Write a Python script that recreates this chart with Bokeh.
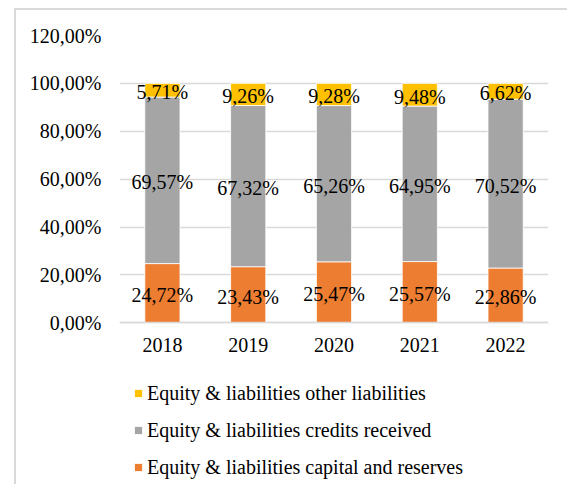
from bokeh.plotting import figure
from bokeh.models import (ColumnDataSource, FactorRange, Range1d, FixedTicker,
                          Legend, LegendItem)
from bokeh.core.properties import value
from bokeh.embed import file_html
from bokeh.resources import INLINE

years = ["2018", "2019", "2020", "2021", "2022"]
capital = [24.72, 23.43, 25.47, 25.57, 22.86]
credits = [69.57, 67.32, 65.26, 64.95, 70.52]
other = [5.71, 9.26, 9.28, 9.48, 6.62]
series_names = ["Equity & liabilities capital and reserves",
                "Equity & liabilities credits received",
                "Equity & liabilities other liabilities"]
colors = ["#ED7D31", "#A5A5A5", "#FFC000"]
y_ticks = [0, 20, 40, 60, 80, 100, 120]
y_tick_labels = ["0,00%", "20,00%", "40,00%", "60,00%", "80,00%", "100,00%", "120,00%"]

FONT = "Liberation Serif"

def fmt(v):
    return f"{v:.2f}".replace(".", ",") + "%"

src = ColumnDataSource(dict(years=years, capital=capital, credits=credits, other=other))

# frame extends below the axis so the legend can sit inside it
p = figure(x_range=FactorRange(*years, range_padding=0), y_range=Range1d(-68.4, 120),
           width=553, height=476, output_backend="svg", toolbar_location=None,
           min_border_left=103, min_border_right=21, min_border_top=25, min_border_bottom=0)
p.styles = {"position": "relative", "top": "8px", "left": "14px",
            "border-top": "2px solid #d9d9d9", "border-left": "2px solid #d9d9d9"}
p.outline_line_color = None
p.background_fill_color = "white"
p.border_fill_color = "white"

rs = p.vbar_stack(["capital", "credits", "other"], x="years", width=0.41, source=src,
                  color=colors, line_color="white", line_width=0.8)

# data labels at segment centres
lab_x, lab_y, lab_t = [], [], []
for i, yr in enumerate(years):
    base = 0.0
    for vals in (capital, credits, other):
        v = vals[i]
        lab_x.append(yr)
        lab_y.append(base + v / 2)
        lab_t.append(fmt(v))
        base += v
lsrc = ColumnDataSource(dict(x=lab_x, y=lab_y, t=lab_t))
p.text(x="x", y="y", text="t", source=lsrc, text_align="center", text_baseline="middle",
       text_font=value(FONT), text_font_size="20px", text_color="black", y_offset=2)

# axes
p.yaxis.ticker = FixedTicker(ticks=y_ticks)
p.yaxis.major_label_overrides = {t: l for t, l in zip(y_ticks, y_tick_labels)}
p.yaxis.axis_line_color = None
p.yaxis.major_tick_line_color = None
p.yaxis.minor_tick_line_color = None
p.yaxis.major_tick_out = 0
p.yaxis.major_label_standoff = 18
p.yaxis.major_label_text_font = FONT
p.yaxis.major_label_text_font_size = "20px"
p.yaxis.major_label_text_color = "black"

p.xaxis.fixed_location = 0
p.xaxis.axis_line_color = "#d9d9d9"
p.xaxis.axis_line_width = 1.5
p.xaxis.major_tick_line_color = None
p.xaxis.major_tick_out = 0
p.xaxis.major_label_standoff = 15
p.xaxis.major_label_text_font = FONT
p.xaxis.major_label_text_font_size = "20px"
p.xaxis.major_label_text_color = "black"

p.xgrid.grid_line_color = None
p.ygrid.grid_line_color = "#d9d9d9"
p.ygrid.grid_line_width = 1.5

legend = Legend(items=[LegendItem(label=series_names[2], renderers=[rs[2]]),
                       LegendItem(label=series_names[1], renderers=[rs[1]]),
                       LegendItem(label=series_names[0], renderers=[rs[0]])],
                location=(14, 7), orientation="vertical")
legend.border_line_color = None
legend.background_fill_alpha = 0
legend.padding = 0
legend.margin = 0
legend.glyph_width = 10
legend.glyph_height = 10
legend.label_standoff = 4
legend.label_height = 24
legend.spacing = 13
legend.label_text_font = FONT
legend.label_text_font_size = "20px"
legend.label_text_color = "black"
p.add_layout(legend)

open("out.html", "w").write(file_html(p, INLINE))
